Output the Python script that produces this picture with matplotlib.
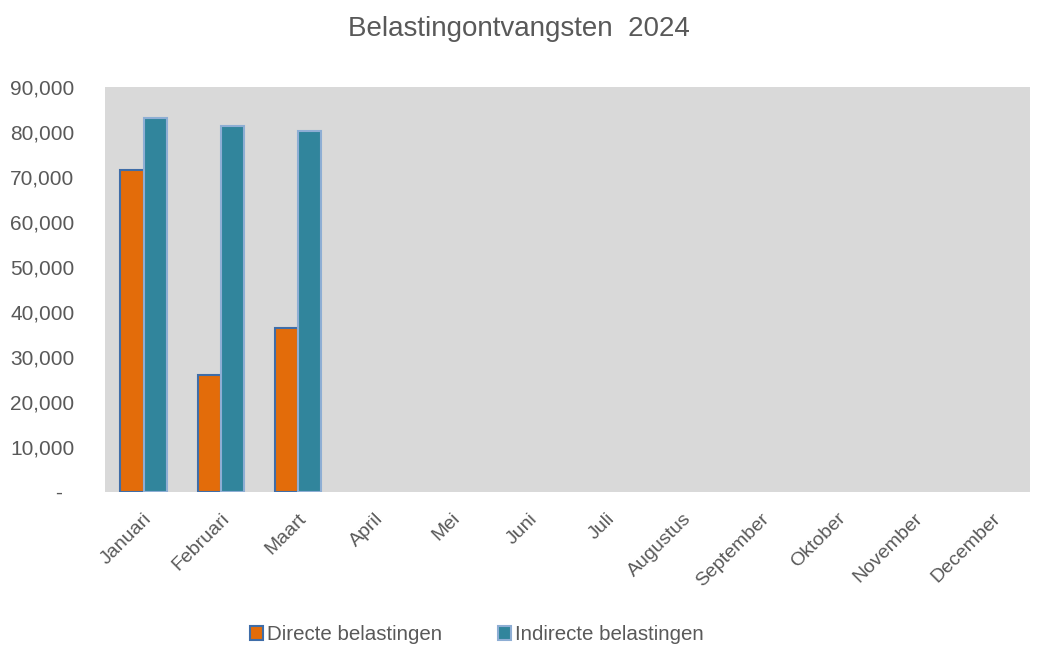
import numpy as np
import matplotlib.pyplot as plt
from matplotlib.ticker import FuncFormatter

plt.rcParams['font.family'] = ['Liberation Sans', 'DejaVu Sans']

# data
maanden = ['Januari', 'Februari', 'Maart', 'April', 'Mei', 'Juni', 'Juli',
           'Augustus', 'September', 'Oktober', 'November', 'December']
directe = [71500, 26000, 36400, 0, 0, 0, 0, 0, 0, 0, 0, 0]
indirecte = [83000, 81300, 80200, 0, 0, 0, 0, 0, 0, 0, 0, 0]

fig = plt.figure(figsize=(10.37, 6.49), dpi=100)
ax = fig.add_axes([0.1013, 0.242, 0.892, 0.624])
ax.set_facecolor('#d9d9d9')

x = np.arange(len(maanden))
w = 0.3
d = np.array(directe, dtype=float)
i = np.array(indirecte, dtype=float)
mask = d > 0
ax.bar(x[mask] - w / 2, d[mask], w, color='#e36c0a', edgecolor='#3f6da8',
       linewidth=1.5, label='Directe belastingen', zorder=3)
mask = i > 0
ax.bar(x[mask] + w / 2, i[mask], w, color='#31859c', edgecolor='#8eaed4',
       linewidth=1.5, label='Indirecte belastingen', zorder=3)

ax.set_xlim(-0.5, len(maanden) - 0.5)
ax.set_ylim(0, 90000)
ax.set_yticks(np.arange(0, 90001, 10000))
# Excel accounting style: zero shown as a dash
ax.yaxis.set_major_formatter(FuncFormatter(lambda v, p: '-  ' if v == 0 else f'{v:,.0f}'))
ax.set_xticks(x)
ax.set_xticklabels(maanden, rotation=45, ha='right', rotation_mode='anchor')
ax.tick_params(axis='both', length=0, labelcolor='#595959')
ax.tick_params(axis='y', pad=22, labelsize=15)
ax.tick_params(axis='x', pad=13, labelsize=14)
for s in ax.spines.values():
    s.set_visible(False)

fig.text(0.5, 0.955, 'Belastingontvangsten  2024', ha='center', va='center',
         fontsize=20, color='#595959')

fig.legend(loc='center', bbox_to_anchor=(0.46, 0.022), ncol=2, frameon=False,
           fontsize=14.8, labelcolor='#595959', handlelength=0.65, handleheight=0.65,
           handletextpad=0.2, columnspacing=2.7)

fig.savefig('out.png', dpi=100)
